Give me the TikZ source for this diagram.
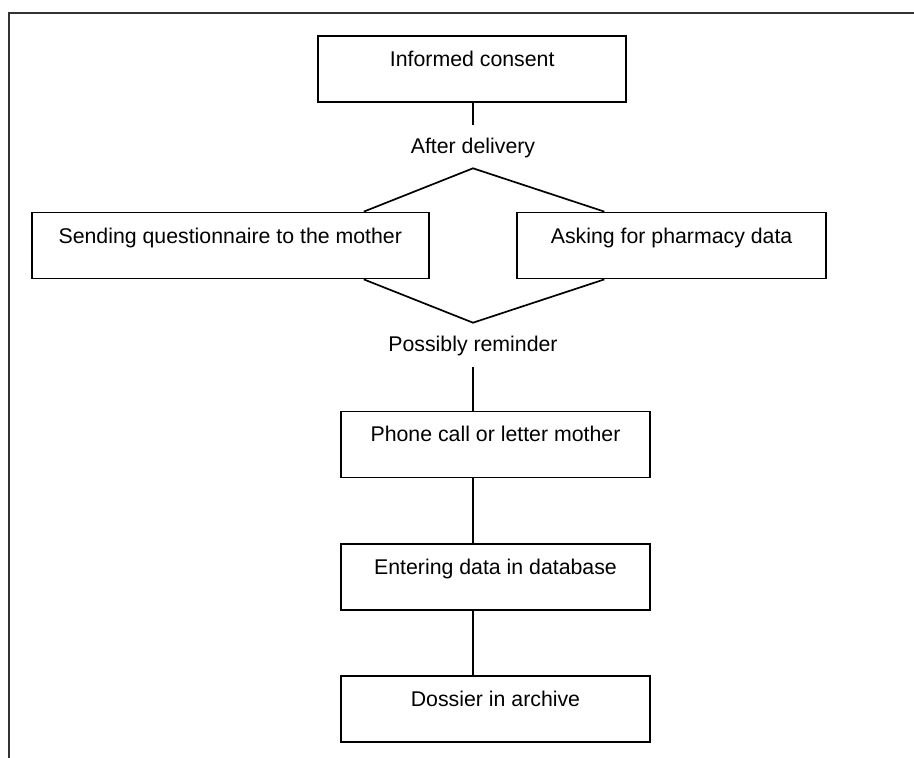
\documentclass[tikz,border=0pt]{standalone}
\usepackage{fontspec}
\setmainfont{Liberation Sans}
\usetikzlibrary{calc}
\begin{document}
\begin{tikzpicture}[x=1pt,y=-1pt,
  every node/.style={font=\fontsize{21.3pt}{25pt}\selectfont},
  box/.style={draw=black, line width=1.8pt, rectangle, inner xsep=0pt, inner ysep=0pt,
              text height=30.5pt, text depth=35.5pt},
  lbl/.style={inner sep=0pt, anchor=base},
  conn/.style={draw=black, line width=1.7pt},
  frame/.style={draw=black!80, line width=2pt}]
\useasboundingbox (0,0) rectangle (914,758);
\draw[frame] (914,12.5) -- (9,12.5) -- (9,758);
\coordinate (axis) at (473,0);
% boxes
\node[box, minimum width=307.7pt] (consent) at (472.2,68.7) {Informed consent};
\node[box, minimum width=397.3pt] (send) at (230.3,245.5) {Sending questionnaire to the mother\hspace{12pt}};
\node[box, minimum width=308.7pt] (pharm) at (671.6,245.5) {Asking for pharmacy data};
\node[box, minimum width=309.3pt] (phone) at (495.5,444.4) {Phone call or letter mother};
\node[box, minimum width=309.3pt] (enter) at (495.5,576.9) {Entering data in database};
\node[box, minimum width=309.3pt] (dossier) at (495.5,709) {Dossier in archive};
% labels
\node[lbl] (after) at (473,153.3) {After delivery};
\node[lbl] (remind) at (473,351) {Possibly reminder};
% connectors
\coordinate (c1) at (473,125);
\coordinate (ctop) at (473,168.3);
\coordinate (cbot) at (473,322.7);
\coordinate (r1) at (473,367);
\draw[conn] (consent.south -| axis) -- (c1);
\draw[conn, line join=miter] ($(send.north east)+(-66,0)$) -- (ctop) -- ($(pharm.north west)+(88,0)$);
\draw[conn, line join=miter] ($(send.south east)+(-66,0)$) -- (cbot) -- ($(pharm.south west)+(88,0)$);
\draw[conn] (r1) -- (r1 |- phone.north);
\draw[conn] (phone.south -| axis) -- (enter.north -| axis);
\draw[conn] (enter.south -| axis) -- (dossier.north -| axis);
\end{tikzpicture}
\end{document}
